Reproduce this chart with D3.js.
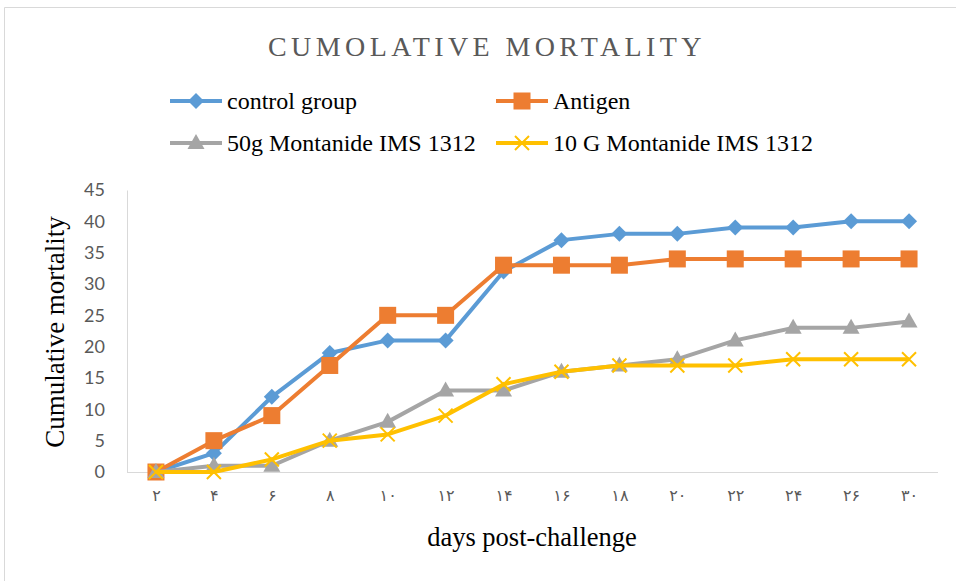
<!DOCTYPE html>
<html><head><meta charset="utf-8">
<script src="https://cdn.jsdelivr.net/npm/d3@7"></script>
<style>body{margin:0;background:#fff}svg{display:block}</style>
</head><body><svg id="c" width="956" height="581"></svg>
<script>
const categories = ["۲","۴","۶","۸","۱۰","۱۲","۱۴","۱۶","۱۸","۲۰","۲۲","۲۴","۲۶","۳۰"];
const controlGroup = [0,3,12,19,21,21,32,37,38,38,39,39,40,40];
const antigen = [0,5,9,17,25,25,33,33,33,34,34,34,34,34];
const montanide50 = [0,1,1,5,8,13,13,16,17,18,21,23,23,24];
const montanide10 = [0,0,2,5,6,9,14,16,17,17,17,18,18,18];
const yTicks = [0,5,10,15,20,25,30,35,40,45];
const seriesNames = ["control group","Antigen","50g Montanide IMS 1312","10 G Montanide IMS 1312"];
const seriesColors = ["#5B9BD5","#ED7D31","#A5A5A5","#FFC000"];
const seriesMarkers = ["diamond","square","triangle","cross"];
const seriesValues = [controlGroup, antigen, montanide50, montanide10];

const svg = d3.select("#c");
// outer frame
svg.append("path").attr("d","M4.5,581 L4.5,7.5 L956,7.5").attr("fill","none").attr("stroke","#d9d9d9").attr("stroke-width",1);

const x = d3.scalePoint().domain(categories).range([127,938]).padding(0.5);
const y = d3.scaleLinear().domain([0,45]).range([472,190]);

// axes
const yAxis = svg.append("g").attr("transform","translate(127,0)")
  .call(d3.axisLeft(y).tickValues(yTicks).tickSize(0).tickPadding(22));
yAxis.select(".domain").attr("stroke","#d9d9d9");
yAxis.selectAll("text").attr("fill","#595959").style("font-family","Lato, 'Open Sans', sans-serif").style("font-size","18px");

const xAxis = svg.append("g").attr("transform","translate(0,472)")
  .call(d3.axisBottom(x).tickSize(0).tickPadding(18));
xAxis.select(".domain").attr("stroke","#d9d9d9").attr("d","M127,0.5H938");
xAxis.selectAll("text").attr("fill","#595959").style("font-family","'DejaVu Sans', sans-serif").style("font-size","16px").style("letter-spacing","6px");

// titles
svg.append("text").attr("x",487).attr("y",56).attr("text-anchor","middle")
  .attr("fill","#595959").style("font-family","'Liberation Serif', serif").style("font-size","28px").style("letter-spacing","4.4px")
  .text("CUMOLATIVE MORTALITY");
svg.append("text").attr("transform","translate(64,332) rotate(-90)").attr("text-anchor","middle")
  .attr("fill","#000").style("font-family","'Liberation Serif', serif").style("font-size","27px")
  .text("Cumulative mortality");
svg.append("text").attr("x",532).attr("y",546).attr("text-anchor","middle")
  .attr("fill","#000").style("font-family","'Liberation Serif', serif").style("font-size","26.5px")
  .text("days post-challenge");

function marker(g, type, color, cx, cy) {
  if (type === "diamond") {
    g.append("path").attr("d",`M${cx},${cy-8}L${cx+8},${cy}L${cx},${cy+8}L${cx-8},${cy}Z`).attr("fill",color);
  } else if (type === "square") {
    g.append("rect").attr("x",cx-8.5).attr("y",cy-8.5).attr("width",17).attr("height",17).attr("fill",color);
  } else if (type === "triangle") {
    g.append("path").attr("d",`M${cx},${cy-9}L${cx+8.5},${cy+6}L${cx-8.5},${cy+6}Z`).attr("fill",color);
  } else {
    g.append("path").attr("d",`M${cx-7},${cy-7}L${cx+7},${cy+7}M${cx+7},${cy-7}L${cx-7},${cy+7}`).attr("stroke",color).attr("stroke-width",2);
  }
}

const line = d3.line().x((d,i)=>x(categories[i])).y(d=>y(d));
seriesValues.forEach((vals,k)=>{
  const g = svg.append("g");
  g.append("path").datum(vals).attr("d",line).attr("fill","none").attr("stroke",seriesColors[k]).attr("stroke-width",4).attr("stroke-linejoin","round");
  vals.forEach((v,i)=>marker(g, seriesMarkers[k], seriesColors[k], x(categories[i]), y(v)));
});

// legend
const legendPos = [[170,101],[496,101],[170,143],[496,143]];
seriesNames.forEach((name,k)=>{
  const [lx,ly] = legendPos[k];
  const g = svg.append("g");
  g.append("line").attr("x1",lx).attr("x2",lx+52).attr("y1",ly).attr("y2",ly).attr("stroke",seriesColors[k]).attr("stroke-width",4);
  marker(g, seriesMarkers[k], seriesColors[k], lx+26, ly);
  g.append("text").attr("x",lx+57).attr("y",ly+8).attr("fill","#000")
    .style("font-family","'Liberation Serif', serif").style("font-size","24px").text(name);
});
</script></body></html>
